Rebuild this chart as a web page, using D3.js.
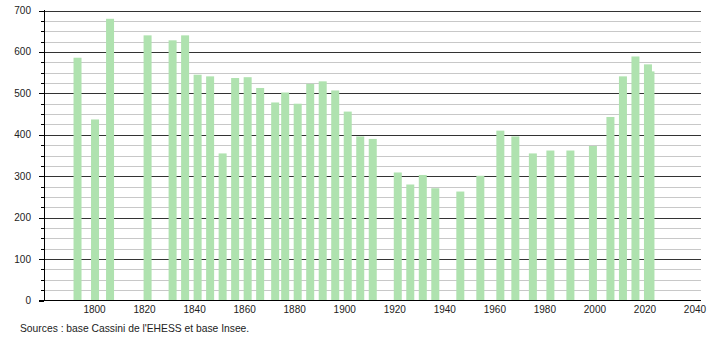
<!DOCTYPE html>
<html>
<head>
<meta charset="utf-8">
<script src="https://cdn.jsdelivr.net/npm/d3@7"></script>
<style>
  body { margin: 0; background: #fff; }
  svg { display: block; font-family: "Liberation Sans", Arial, sans-serif; }
</style>
</head>
<body>
<div id="chart"></div>
<script>
// census years and population
const years = [1793, 1800, 1806, 1821, 1831, 1836, 1841, 1846, 1851, 1856,
  1861, 1866, 1872, 1876, 1881, 1886, 1891, 1896, 1901, 1906, 1911,
  1921, 1926, 1931, 1936, 1946, 1954, 1962, 1968, 1975, 1982, 1990,
  1999, 2006, 2011, 2016, 2021, 2022];
const population = [586, 437, 680, 640, 628, 640, 545, 541, 355, 537,
  539, 513, 478, 502, 475, 523, 529, 507, 456, 396, 390,
  309, 280, 303, 271, 263, 301, 410, 396, 355, 362, 362,
  373, 443, 541, 589, 570, 553];
const yTicks = [0, 100, 200, 300, 400, 500, 600, 700];
const xTicks = [1800, 1820, 1840, 1860, 1880, 1900, 1920, 1940, 1960, 1980, 2000, 2020, 2040];
const source = "Sources : base Cassini de l'EHESS et base Insee.";

const width = 710, height = 340;
const svg = d3.select('#chart').append('svg')
  .attr('width', width).attr('height', height);

const x = d3.scaleLinear().domain([1780, 2042.4]).range([44.5, 701]);
const y = d3.scaleLinear().domain([0, 700]).range([300.5, 10.5]);

// minor grid every 25
const minor = d3.range(25, 700, 25).filter(v => v % 100 !== 0);
svg.append('g').selectAll('line').data(minor).enter().append('line')
  .attr('x1', 44).attr('x2', 701)
  .attr('y1', d => Math.round(y(d)) + 0.5).attr('y2', d => Math.round(y(d)) + 0.5)
  .attr('stroke', '#c8c8c8').attr('stroke-width', 1);

// major grid
svg.append('g').selectAll('line').data(yTicks.slice(1)).enter().append('line')
  .attr('x1', 44).attr('x2', 701)
  .attr('y1', d => Math.round(y(d)) + 0.5).attr('y2', d => Math.round(y(d)) + 0.5)
  .attr('stroke', '#333').attr('stroke-width', 1);

// bars
const bw = 8;
svg.append('g').selectAll('rect').data(years).enter().append('rect')
  .attr('x', (d) => x(d) + 0.5 - bw / 2)
  .attr('y', (d, i) => y(population[i]))
  .attr('width', bw)
  .attr('height', (d, i) => y(0) - y(population[i]))
  .attr('fill', '#afe2af');

// y axis
const yAxis = svg.append('g');
yAxis.append('line')
  .attr('x1', 44.5).attr('x2', 44.5).attr('y1', 10).attr('y2', 301)
  .attr('stroke', '#000');
yAxis.selectAll('.minor').data(minor).enter().append('line')
  .attr('x1', 41).attr('x2', 44)
  .attr('y1', d => Math.round(y(d)) + 0.5).attr('y2', d => Math.round(y(d)) + 0.5)
  .attr('stroke', '#000');
yAxis.selectAll('.major').data(yTicks).enter().append('line')
  .attr('x1', 39).attr('x2', 44)
  .attr('y1', d => Math.round(y(d)) + 0.5).attr('y2', d => Math.round(y(d)) + 0.5)
  .attr('stroke', '#000');
yAxis.selectAll('text').data(yTicks).enter().append('text')
  .attr('x', 31).attr('y', d => y(d) + 3.5)
  .attr('text-anchor', 'end')
  .attr('font-size', 10).attr('fill', '#222')
  .text(d => d);

// x axis
svg.append('line')
  .attr('x1', 39).attr('x2', 701).attr('y1', 300.5).attr('y2', 300.5)
  .attr('stroke', '#000');
svg.append('g').selectAll('text').data(xTicks).enter().append('text')
  .attr('x', d => x(d))
  .attr('y', 313)
  .attr('text-anchor', 'middle')
  .attr('font-size', 10).attr('fill', '#222')
  .text(d => d);

svg.append('text')
  .attr('x', 20).attr('y', 332)
  .attr('font-size', 10.3).attr('fill', '#222')
  .text(source);
</script>
</body>
</html>
